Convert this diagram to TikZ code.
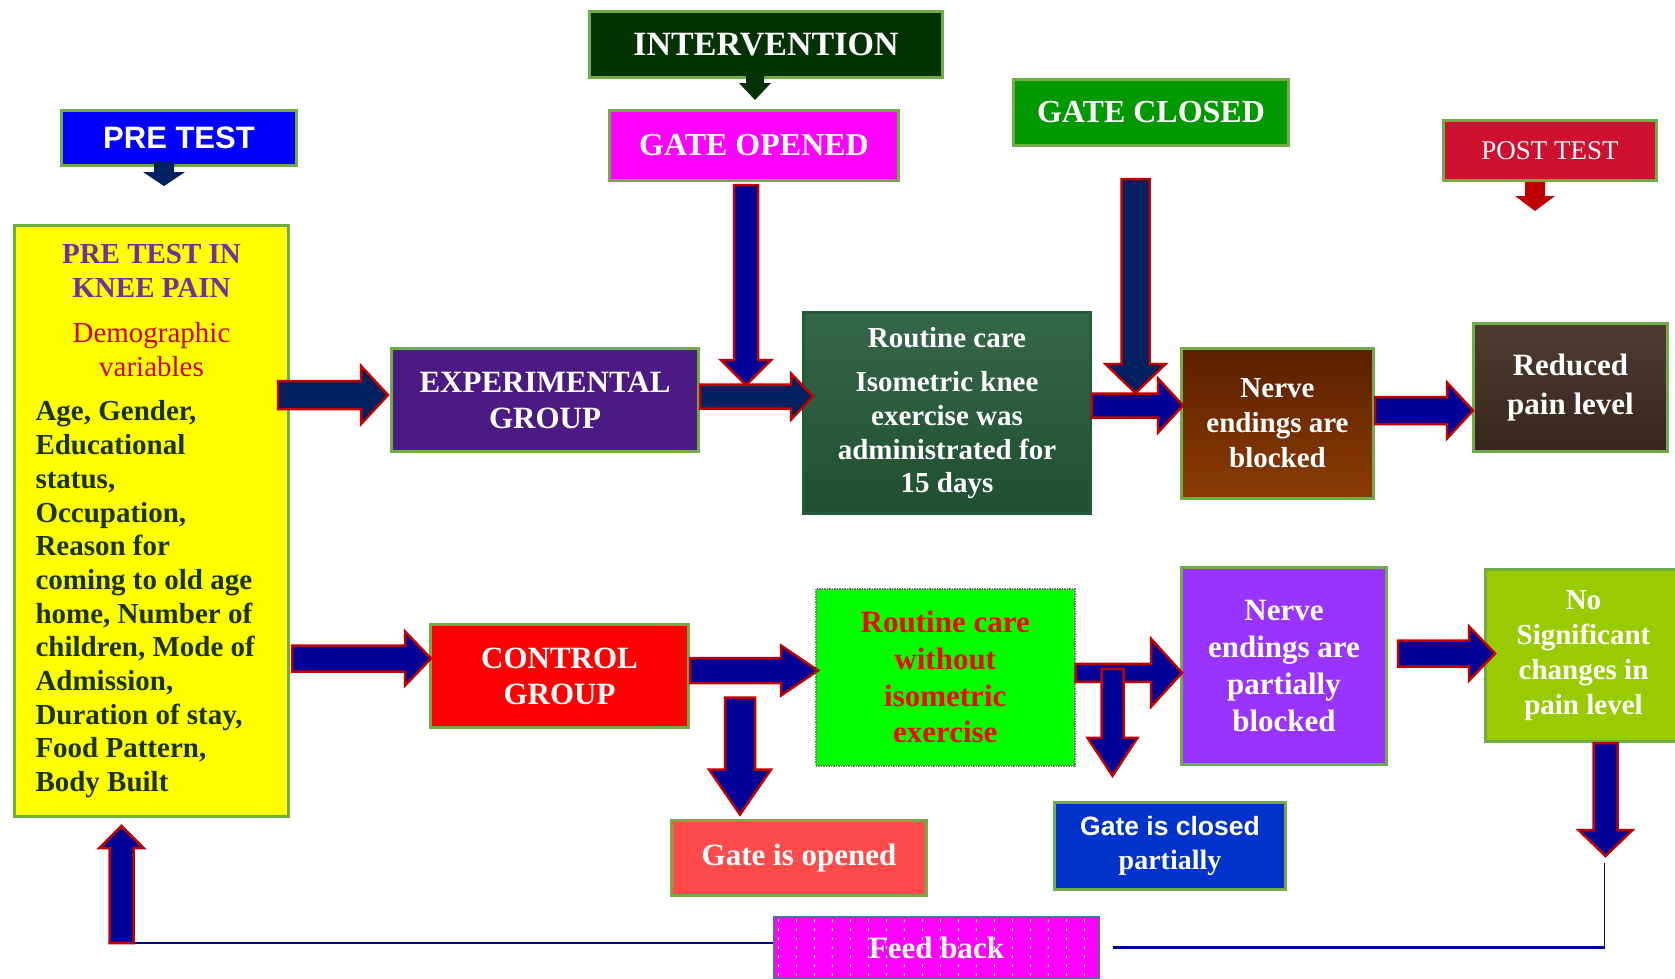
\documentclass[tikz,border=0pt]{standalone}
\usepackage{fontspec}
\setmainfont{Liberation Serif}
\setsansfont{Liberation Sans}
\usepackage{tikz}
\usetikzlibrary{calc,positioning,patterns.meta}
\definecolor{edgeGreen}{HTML}{70AD47}
\definecolor{arrowRed}{HTML}{C00000}
\definecolor{navyDark}{HTML}{002060}
\definecolor{navyBlue}{HTML}{000099}
\definecolor{interGreen}{HTML}{033303}
\definecolor{gateGreen}{HTML}{009900}
\definecolor{postRed}{HTML}{CF0F2F}
\definecolor{expPurple}{HTML}{4B1A82}
\definecolor{marbleGreen}{HTML}{235A38}
\definecolor{woodBrown}{HTML}{3F2B1F}
\definecolor{bodyText}{HTML}{1A3300}
\definecolor{fbEdge}{HTML}{4F6F9F}
\definecolor{pinkBox}{HTML}{FF00FF}
\definecolor{lemon}{HTML}{FFFF00}
\newcommand{\colorTitle}{\color[HTML]{7030A0}}
\newcommand{\colorDemo}{\color[HTML]{CC0000}}
\newcommand{\boxfont}[2]{\fontsize{#1}{#2}\selectfont\bfseries}
\tikzdeclarepattern{
  name=feeddots,
  type=uncolored,
  bounding box={(0pt,0pt) and (18pt,9.3pt)},
  tile size={(18pt,9.3pt)},
  code={\pgfpathrectangle{\pgfpoint{4pt}{3pt}}{\pgfpoint{1.5pt}{3pt}}\pgfusepath{fill}}
}
% block arrow: [style]{tail}{tip}{shaft half width}{head half width}{head length}
\newcommand{\blockarrow}[6][bigarrow]{%
  \path[#1] let \p1=(#2), \p2=(#3),
    \n1={veclen(\x2-\x1,\y2-\y1)}, \n2={(\x2-\x1)/\n1}, \n3={(\y2-\y1)/\n1} in
    ({\x1-#4*(\n3)},{\y1+#4*(\n2)})
    -- ({\x2-#6*(\n2)-#4*(\n3)},{\y2-#6*(\n3)+#4*(\n2)})
    -- ({\x2-#6*(\n2)-#5*(\n3)},{\y2-#6*(\n3)+#5*(\n2)})
    -- (\p2)
    -- ({\x2-#6*(\n2)+#5*(\n3)},{\y2-#6*(\n3)-#5*(\n2)})
    -- ({\x2-#6*(\n2)+#4*(\n3)},{\y2-#6*(\n3)-#4*(\n2)})
    -- ({\x1+#4*(\n3)},{\y1-#4*(\n2)}) -- cycle;}

\begin{document}
\begin{tikzpicture}[x=1pt, y=-1pt,
    panel/.style={draw=edgeGreen, line width=3pt, inner sep=0pt, text=white, align=center, anchor=north west},
    bigarrow/.style={draw=arrowRed, line width=2.5pt, line join=miter, fill=navyBlue},
    smallarrow/.style={draw=none},
    fbline/.style={draw=navyBlue, line width=2pt}]
        \useasboundingbox (0,0) rectangle (1675,978);

        % headings
        \node[panel, fill=interGreen, minimum width=353pt, minimum height=66pt, font=\boxfont{34}{40}] (inter) at (588,10) {INTERVENTION};
        \node[panel, fill=pinkBox, minimum width=289pt, minimum height=70pt, font=\boxfont{32}{38}] (gopen) at (608,109) {GATE OPENED};
        \node[panel, fill=gateGreen, minimum width=275pt, minimum height=66pt, font=\boxfont{32}{38}] (gclosed) at (1012,78) {GATE CLOSED};
        \node[panel, fill=blue, minimum width=235pt, minimum height=55pt, font=\sffamily\boxfont{31}{36}] (pretest) at (60,109) {PRE TEST};
        \node[panel, fill=postRed, minimum width=213pt, minimum height=60pt, font=\fontsize{27}{32}\selectfont] (posttest) at (1442,119) {POST TEST};

        % pre test box
        \node[panel, fill=lemon, minimum width=274pt, minimum height=591pt, text=bodyText] (pre) at (13,224) {%
          \begin{minipage}{232pt}\boxfont{29}{34}\centering
          {\colorTitle PRE TEST IN\\ KNEE PAIN\par}
          \vspace{11pt}
          {\mdseries\colorDemo Demographic\\ variables\par}
          \vspace{11pt}
          \fontsize{29}{33.7}\selectfont\raggedright
          Age, Gender,\\ Educational\\ status,\\ Occupation,\\ Reason for\\ coming to old age\\ home, Number of\\ children, Mode of\\ Admission,\\ Duration of stay,\\ Food Pattern,\\ Body Built\par
          \end{minipage}};

        % experimental row
        \node[panel, fill=expPurple, minimum width=307pt, minimum height=103pt, font=\boxfont{31}{36}] (exp) at (390,347) {EXPERIMENTAL\\GROUP};
        \node[panel, draw=marbleGreen, top color=marbleGreen!92!white, bottom color=marbleGreen!88!black, minimum width=287pt, minimum height=201pt, font=\boxfont{29}{33.7}] (rc1) at (802,311) {Routine care\\[11pt]Isometric knee\\exercise was\\administrated for\\15 days};
        \node[panel, top color={rgb,255:red,90;green,32;blue,0}, bottom color={rgb,255:red,140;green,60;blue,2}, minimum width=192pt, minimum height=150pt, font=\boxfont{29}{35}] (nb1) at (1180,347) {Nerve\\endings are\\blocked};
        \node[panel, top color=woodBrown!92!white, bottom color=woodBrown!88!black, minimum width=194pt, minimum height=128pt, font=\boxfont{31}{39}] (less) at (1472,322) {Reduced\\pain level};

        % control row
        \node[panel, fill=red, minimum width=258pt, minimum height=103pt, font=\boxfont{31}{36}] (ctl) at (429,623) {CONTROL\\GROUP};
        \node[panel, fill=green, draw=black!55, line width=1.5pt, densely dotted, text=red, minimum width=259pt, minimum height=177pt, font=\boxfont{31}{36.7}] (rc2) at (815,588) {Routine care\\without\\isometric\\exercise};
        \node[panel, fill={rgb,255:red,153;green,51;blue,255}, minimum width=205pt, minimum height=197pt, font=\boxfont{31}{36.7}] (nb2) at (1180,566) {Nerve\\endings are\\partially\\blocked};
        \node[panel, fill={rgb,255:red,153;green,204;blue,0}, minimum width=196pt, minimum height=172pt, font=\boxfont{29}{35}] (nochg) at (1484,568) {No\\Significant\\changes in\\pain level};

        % gate results and feed back
        \node[panel, fill={rgb,255:red,255;green,75;blue,75}, minimum width=255pt, minimum height=75pt, font=\boxfont{31}{36}] (gto) at (670,819) {Gate is opened};
        \node[panel, fill={rgb,255:red,0;green,51;blue,204}, minimum width=231pt, minimum height=87pt, font=\boxfont{28}{34}] (gtc) at (1053,801) {{\sffamily\fontsize{26.5}{34}\selectfont Gate is closed}\\partially};
        \node[panel, draw=fbEdge, line width=2pt, preaction={fill=pinkBox}, pattern=feeddots, pattern color=white, minimum width=325pt, minimum height=61pt, font=\boxfont{31}{36}] (fb) at (773,916) {Feed back};

        % small heading arrows
        \blockarrow[smallarrow, fill=navyDark]{$(pretest.south)+(-15,-5)$}{$(pretest.south)+(-15,19)$}{10}{21}{14}
        \blockarrow[smallarrow, fill=interGreen]{$(inter.south)+(-11,-3)$}{$(inter.south)+(-11,21)$}{9}{16}{17}
        \blockarrow[smallarrow, fill=arrowRed]{$(posttest.south)+(-15,0)$}{$(posttest.south)+(-15,29)$}{10}{20}{15}

        % gate arrows
        \blockarrow{$(gopen.south)+(-8,3)$}{$(gopen.south)+(-8,203)$}{12}{25}{25}
        \blockarrow[bigarrow, fill=navyDark]{$(gclosed.south)+(-15.5,32)$}{$(gclosed.south)+(-15.5,246)$}{14}{30}{29}

        % experimental flow
        \blockarrow[bigarrow, fill=navyDark]{$(pre.east |- exp.west)+(-12,-5)$}{$(exp.west)+(-2,-5)$}{14}{29}{27}
        \blockarrow[bigarrow, fill=navyDark]{$(exp.east)+(0,-3.5)$}{$(exp.east -| rc1.west)+(11,-3.5)$}{12}{23}{22}
        \blockarrow{$(rc1.east |- nb1.west)+(0,-18)$}{$(nb1.west)+(3,-18)$}{12}{27}{25}
        \blockarrow{$(nb1.east)+(0,-13)$}{$(nb1.east -| less.west)+(1,-13)$}{13.5}{28}{26}

        % control flow
        \blockarrow{$(pre.east |- ctl.west)+(2,-17.5)$}{$(ctl.west)+(2,-17.5)$}{13}{27}{26}
        \blockarrow{$(ctl.east)+(0,-5.5)$}{$(ctl.east -| rc2.west)+(3,-5.5)$}{12.5}{25}{37}
        \blockarrow{$(ctl.east)+(50,21.5)$}{$(ctl.east)+(50,138.5)$}{15}{31}{45}
        \blockarrow{$(rc2.east)+(0,-4.5)$}{$(rc2.east -| nb2.west)+(2,-4.5)$}{9}{34}{31}
        \blockarrow{$(rc2.east)+(37,-8.5)$}{$(rc2.east)+(37,98.5)$}{11}{25}{38}
        \blockarrow{$(nb2.east)+(10,-12.5)$}{$(nb2.east -| nochg.west)+(11,-12.5)$}{13}{27}{26}
        \blockarrow{$(nochg.south)+(22,0)$}{$(nochg.south)+(22,113)$}{12}{27}{26}

        % feed back loop
        \coordinate (fbturn) at ($(pre.south)+(-30,125)$);
        \coordinate (fbright) at ($(fb.east)+(13,0)$);
        \coordinate (nochgend) at ($(nochg.south)+(21,120)$);
        \draw[fbline] (fbturn) -- (fbturn -| fb.west);
        \draw[fbline, line width=3pt] (fbright) -- (fbright -| nochgend);
        \draw[fbline, line width=1pt] (fbright -| nochgend) -- (nochgend);
        \blockarrow{fbturn}{$(pre.south)+(-30,8)$}{12}{22}{22}
      \end{tikzpicture}
\end{document}
